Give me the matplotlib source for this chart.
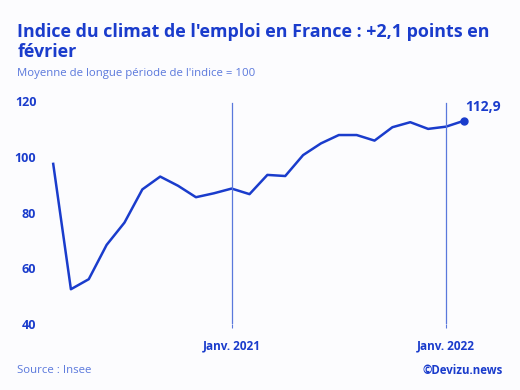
import matplotlib
matplotlib.use("Agg")
import matplotlib.pyplot as plt

# monthly values, March 2020 -> February 2022
months = ["2020-03", "2020-04", "2020-05", "2020-06", "2020-07", "2020-08",
          "2020-09", "2020-10", "2020-11", "2020-12", "2021-01", "2021-02",
          "2021-03", "2021-04", "2021-05", "2021-06", "2021-07", "2021-08",
          "2021-09", "2021-10", "2021-11", "2021-12", "2022-01", "2022-02"]
values = [97.9, 52.5, 56.1, 68.4, 76.4, 88.3, 92.9, 89.6, 85.5, 86.9, 88.6, 86.6,
          93.5, 93.1, 100.6, 104.8, 107.8, 107.8, 105.8, 110.6, 112.4, 110.0, 110.8, 112.9]
jan_labels = {"2021-01": "Janv. 2021", "2022-01": "Janv. 2022"}
yticks = [40, 60, 80, 100, 120]

blue = "#1a3ccc"
light = "#5a78dc"
bg = "#fcfcfe"
plt.rcParams['font.family'] = ['Open Sans', 'DejaVu Sans']

fig = plt.figure(figsize=(5.2, 3.9), dpi=100, facecolor=bg)
ax = fig.add_axes([0.102, 0.169, 0.790, 0.572], facecolor=bg)

x = list(range(len(months)))
ax.plot(x, values, color=blue, lw=1.8, solid_joinstyle='round', solid_capstyle='butt',
        clip_on=False)
ax.plot(x[-1], values[-1], 'o', color=blue, ms=5, clip_on=False)
ax.annotate("112,9", (x[-1], values[-1]), xytext=(1, 5), textcoords='offset points',
            fontsize=10, fontweight='bold', color=blue, ha='left', va='bottom')

jan_pos = [months.index(m) for m in jan_labels]
for p in jan_pos:
    ax.axvline(p, ymax=0.99, color=light, lw=0.9)

ax.set_xlim(0, len(months) - 1)
ax.set_ylim(40, 120)
ax.set_yticks(yticks)
ax.set_yticklabels([str(v) for v in yticks], fontsize=9, fontweight='bold', color=blue)
ax.set_xticks(jan_pos)
ax.set_xticklabels(list(jan_labels.values()), fontsize=8.5, fontweight='bold', color=blue)
ax.tick_params(axis='y', length=0, pad=12)
ax.tick_params(axis='x', length=3, color=light, pad=8)
for s in ax.spines.values():
    s.set_visible(False)

fig.text(0.033, 0.893, "Indice du climat de l'emploi en France : +2,1 points en\nfévrier",
         fontsize=12.9, fontweight='bold', color=blue, ha='left', va='center', linespacing=1.15)
fig.text(0.033, 0.812, "Moyenne de longue période de l'indice = 100",
         fontsize=8.2, color=light, ha='left', va='center')
fig.text(0.033, 0.051, "Source : Insee", fontsize=8.2, color=light, ha='left', va='center')
fig.text(0.968, 0.051, "©Devizu.news", fontsize=8.3, fontweight='bold', color=blue,
         ha='right', va='center')

fig.savefig("out.png", dpi=100, facecolor=bg)
